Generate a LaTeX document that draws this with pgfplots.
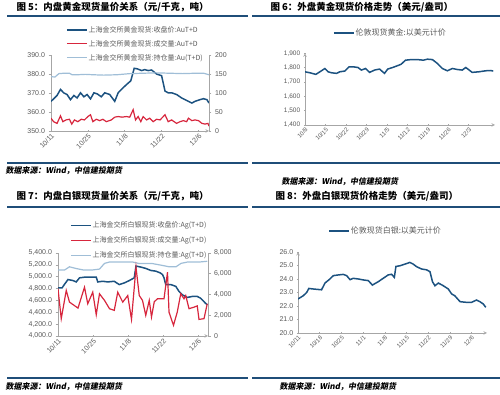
\documentclass[border=0pt]{standalone}
\usepackage{pgfplots}
\pgfplotsset{compat=1.18}
\usepackage{fontspec}
\setmainfont{Liberation Sans}
\newfontfamily\cjk{Noto Sans CJK SC}
\newfontfamily\cjksrc{Noto Sans CJK SC}[FakeSlant=0.18]
\definecolor{cDark}{RGB}{28,82,128}
\definecolor{cRed}{RGB}{215,38,61}
\definecolor{cLight}{RGB}{160,190,215}
\definecolor{cRule}{RGB}{31,78,121}
\definecolor{tickgray}{RGB}{89,89,89}
\definecolor{axisgray}{RGB}{166,166,166}
\pgfplotsset{
  base/.style={scale only axis, axis line style={draw=axisgray, line width=0.6pt, -},
    tick style={draw=axisgray, line width=0.5pt}, major tick length=2.5pt, tick align=outside,
    ticklabel style={font=\fontsize{7}{8}\selectfont, text=tickgray},
    /pgf/number format/assume math mode=true,
    xticklabel style={rotate=45, anchor=north east, inner sep=0.5pt},
    legend image code/.code={\draw[##1] (0pt,0pt) -- (20pt,0pt);},
    legend cell align=left},
  leg/.style={legend style={draw=none, fill=none, font=\cjk\fontsize{7}{8}\selectfont, text=tickgray, row sep=4.5pt, inner sep=0pt, nodes={inner sep=1pt}}},
}
\begin{document}
\begin{tikzpicture}
\useasboundingbox (0,0) rectangle (500pt,395pt);
% titles and rules
\node[anchor=west, font=\cjk\bfseries\fontsize{9.5}{10}\selectfont] at (13pt,388pt) {图 5：内盘黄金现货量价关系（元/千克，吨）};
\node[anchor=west, font=\cjk\bfseries\fontsize{9.5}{10}\selectfont] at (267pt,388pt) {图 6：外盘黄金现货价格走势（美元/盎司）};
\node[anchor=west, font=\cjk\bfseries\fontsize{9.5}{10}\selectfont] at (13pt,199pt) {图 7：内盘白银现货量价关系（元/千克，吨）};
\node[anchor=west, font=\cjk\bfseries\fontsize{9.5}{10}\selectfont] at (272pt,199pt) {图 8：外盘白银现货价格走势（美元/盎司）};
\draw[cRule, line width=1.2pt] (7pt,379pt) -- (248pt,379pt);
\draw[cRule, line width=1.2pt] (252pt,379pt) -- (500pt,379pt);
\draw[cRule, line width=1.2pt] (7pt,232pt) -- (248pt,232pt);
\draw[cRule, line width=1.2pt] (252pt,232pt) -- (500pt,232pt);
\draw[cRule, line width=1.2pt] (7pt,188pt) -- (248pt,188pt);
\draw[cRule, line width=1.2pt] (252pt,188pt) -- (500pt,188pt);
\draw[cRule, line width=1.2pt] (7pt,17pt) -- (248pt,17pt);
\draw[cRule, line width=1.2pt] (252pt,17pt) -- (500pt,17pt);
\node[anchor=west, font=\cjksrc\bfseries\fontsize{8}{9}\selectfont] at (2pt,224pt) {数据来源：Wind，中信建投期货};
\node[anchor=west, font=\cjksrc\bfseries\fontsize{8}{9}\selectfont] at (278pt,213pt) {数据来源：Wind，中信建投期货};
\node[anchor=west, font=\cjksrc\bfseries\fontsize{8}{9}\selectfont] at (2pt,8pt) {数据来源：Wind，中信建投期货};
\node[anchor=west, font=\cjksrc\bfseries\fontsize{8}{9}\selectfont] at (276pt,8pt) {数据来源：Wind，中信建投期货};

% ---------- Chart 1 ----------
\begin{axis}[base, leg, at={(51pt,264pt)}, anchor=south west, width=158pt, height=76pt,
  axis x line=bottom, axis y line*=left, xmin=0, xmax=60, ymin=350, ymax=390,
  xtick={0,14,28,42,56}, xticklabels={10/11,10/25,11/8,11/22,12/6},
  ytick={350,360,...,390}, yticklabel style={/pgf/number format/.cd, fixed, fixed zerofill, precision=1},
  legend style={at={(0.095,1.395)}, anchor=north west}]
\addplot[cDark, line width=1.5pt] coordinates {(0,365.6)(1.0,366.9)(2.3,368.7)(3.6,371.9)(4.8,370.1)(6.1,369.2)(7.4,366.5)(8.7,368.7)(9.9,367.4)(11.2,370.1)(12.5,368.0)(13.7,369.2)(15.0,366.9)(16.3,370.1)(17.6,369.5)(19.1,368.0)(20.4,370.1)(22.3,369.2)(24.2,365.6)(25.5,370.1)(27.4,372.8)(29.3,375.2)(30.3,376.4)(31.6,383.0)(32.8,382.7)(34.4,381.8)(35.6,382.3)(36.9,381.8)(38.2,382.1)(40.1,380.0)(42.0,379.1)(43.3,371.0)(44.5,370.1)(45.8,370.1)(47.7,369.2)(49.6,367.4)(52.2,365.6)(53.5,364.7)(54.7,365.6)(56.6,366.5)(57.9,367.0)(59.2,366.5)(60,364.7)};
\addlegendentry{上海金交所黄金现货:收盘价:AuT+D}
\addlegendimage{cRed, line width=1.2pt}
\addlegendentry{上海金交所黄金现货:成交量:AuT+D}
\addlegendimage{cLight, line width=1.2pt}
\addlegendentry{上海金交所黄金现货:持仓量:Au(T+D)}
\end{axis}
\begin{axis}[base, at={(51pt,264pt)}, anchor=south west, width=158pt, height=76pt,
  axis x line=none, axis y line*=right, xmin=0, xmax=60, ymin=0, ymax=200, ytick={0,50,...,200}]
\addplot[cLight, line width=1.2pt] coordinates {(0,143)(1.5,142)(3,151)(5,152)(7,152)(8,148)(10,148)(13,149)(16,148)(20,147)(25,148)(30,151)(35,152)(40,153)(45,152)(50,151)(55,152)(58,152)(60,148)};
\addplot[cRed, line width=1.2pt] coordinates {(0,33.7)(1.0,24.5)(2.3,20.0)(3.6,39.9)(4.5,24.5)(5.7,29.1)(7.0,30.9)(7.9,18.2)(8.9,29.1)(10.2,24.5)(11.5,30.9)(12.7,29.1)(14.0,38.0)(15.0,42.7)(15.9,24.5)(17.2,30.9)(18.5,27.3)(19.7,30.9)(21.0,24.5)(22.9,29.1)(24.2,36.4)(25.5,38.0)(27.0,36.4)(28.6,38.0)(29.9,36.4)(31.2,56.2)(32.1,29.1)(33.1,38.0)(34.1,24.5)(35.0,38.0)(36.3,29.1)(37.5,33.7)(38.8,24.5)(40.1,30.9)(41.4,29.1)(43.3,42.7)(44.5,24.5)(45.8,29.1)(47.7,20.0)(49.0,24.5)(50.3,27.3)(51.5,24.5)(52.2,33.7)(53.5,27.3)(54.7,29.1)(56.0,27.3)(57.3,20.0)(58.5,18.2)(59.6,20.0)(60,12.8)};
\end{axis}

% ---------- Chart 2 ----------
\begin{axis}[base, leg, at={(305pt,270pt)}, anchor=south west, width=190pt, height=71.7pt,
  axis x line=bottom, axis y line=left, xmin=0, xmax=65, ymin=1400, ymax=1900,
  xtick={0,7,...,56}, xticklabels={10/8,10/15,10/22,10/29,11/5,11/12,11/19,11/26,12/3},
  ticklabel style={font=\fontsize{6.5}{7}\selectfont},
  xticklabel style={font=\fontsize{6}{7}\selectfont},
  ytick={1400,1500,...,1900}, yticklabel style={/pgf/number format/.cd, fixed, 1000 sep={,}},
  legend style={at={(0.147,1.283)}, anchor=west, font=\cjk\fontsize{8}{9}\selectfont}]
\addplot[cDark, line width=1.5pt] coordinates {(0,1771)(1.7,1764)(3.7,1753)(5.1,1771)(6.8,1794)(7.9,1771)(9.1,1764)(10.8,1760)(11.9,1771)(13.6,1776)(15.1,1806)(16.4,1806)(18.1,1801)(19.3,1783)(20.7,1794)(22.1,1767)(23.8,1783)(25.5,1790)(27.2,1760)(28.3,1790)(30.0,1801)(32.1,1817)(32.9,1824)(34.4,1852)(36.3,1856)(38.5,1856)(40.5,1852)(41.9,1859)(43.6,1856)(45.3,1829)(47.0,1794)(48.7,1778)(50.4,1794)(52.1,1787)(53.8,1783)(55.0,1801)(57.2,1767)(59.5,1771)(61.8,1778)(63.5,1780)(64.4,1776)};
\addlegendentry{伦敦现货黄金:以美元计价}
\end{axis}

% ---------- Chart 3 ----------
\begin{axis}[base, leg, at={(58pt,59pt)}, anchor=south west, width=150pt, height=83pt,
  axis x line=bottom, axis y line*=left, xmin=0, xmax=60, ymin=4000, ymax=5400,
  xtick={0,14,28,42,56}, xticklabels={10/11,10/25,11/8,11/22,12/6},
  ytick={4000,4200,...,5400}, yticklabel style={/pgf/number format/.cd, fixed, fixed zerofill, precision=1, 1000 sep={,}},
  legend style={at={(0.08,1.39)}, anchor=north west, row sep=5.5pt}]
\addplot[cDark, line width=1.5pt] coordinates {(0,4810)(1.6,4810)(2.7,4878)(4.0,4952)(6.0,4935)(7.3,4912)(8.6,4981)(10.6,4992)(13.3,4992)(15.3,4992)(15.9,4912)(17.9,4923)(19.9,4912)(22.5,4923)(24.5,4867)(26.5,4895)(28.5,4935)(30.5,4981)(31.2,5180)(33.2,5162)(35.1,5140)(37.1,5106)(39.1,5094)(40.8,5066)(41.8,5037)(42.4,4981)(43.1,4867)(45.1,4867)(47.1,4838)(48.4,4752)(49.7,4696)(51.7,4650)(53.7,4667)(55.7,4667)(57.0,4639)(59.0,4553)(59.7,4525)};
\addlegendentry{上海金交所白银现货:收盘价:Ag(T+D)}
\addlegendimage{cRed, line width=1.2pt}
\addlegendentry{上海金交所白银现货:成交量:Ag(T+D)}
\addlegendimage{cLight, line width=1.2pt}
\addlegendentry{上海金交所白银现货:持仓量:Ag(T+D)}
\end{axis}
\begin{axis}[base, at={(58pt,59pt)}, anchor=south west, width=150pt, height=83pt,
  axis x line=none, axis y line*=right, xmin=0, xmax=60, ymin=0, ymax=8000, ytick={0,2000,...,8000},
  yticklabel style={/pgf/number format/.cd, fixed, 1000 sep={,}}]
\addplot[cLight, line width=1.2pt] coordinates {(0,6370)(2.7,6370)(4.6,6670)(7.3,6500)(10,6370)(14,6370)(16.6,6450)(18.6,7000)(20.6,7130)(24.6,7130)(29.9,7130)(32.5,6980)(37.8,6980)(41.8,6800)(44.5,6670)(47.2,6670)(49.2,7000)(51.8,7130)(56.5,7130)(59.7,7200)};
\addplot[cRed, line width=1.2pt] coordinates {(0,4550)(1.3,1670)(3.3,4390)(4.6,3264)(8.0,2690)(10.6,4700)(11.9,3110)(13.9,4224)(15.3,2054)(16.6,4070)(18.6,3430)(20.6,2630)(22.5,2470)(23.9,4224)(25.9,3264)(27.9,3900)(29.4,1600)(31.2,6620)(32.5,3900)(33.8,3430)(35.1,1990)(36.5,3430)(37.4,1830)(38.5,3300)(39.8,3590)(42.4,3590)(43.8,6144)(44.4,2300)(46.2,1030)(47.7,2300)(49.1,4070)(50.4,3590)(51.1,3900)(52.4,2630)(54.4,2780)(55.7,2900)(56.4,1600)(58.4,1670)(59.7,3110)};
\end{axis}

% ---------- Chart 4 ----------
\begin{axis}[base, leg, at={(298pt,62pt)}, anchor=south west, width=189pt, height=81pt,
  axis x line=bottom, axis y line=left, xmin=0, xmax=61, ymin=20, ymax=26,
  xtick={0,7,...,56}, xticklabels={10/11,10/18,10/25,11/1,11/8,11/15,11/22,11/29,12/6},
  xticklabel style={font=\fontsize{6}{7}\selectfont},
  ytick={20,21,...,26}, yticklabel style={/pgf/number format/.cd, fixed, fixed zerofill, precision=1},
  legend style={at={(0.159,1.26)}, anchor=west, font=\cjk\fontsize{8}{9}\selectfont}]
\addplot[cDark, line width=1.5pt] coordinates {(0,22.52)(1.7,22.76)(2.8,23.0)(3.5,23.3)(4.9,23.26)(7.6,23.2)(8.7,23.7)(10.3,24.0)(11.4,24.25)(13.0,24.3)(14.6,24.34)(15.7,24.25)(16.8,23.95)(17.8,24.05)(19.5,24.0)(21.1,23.93)(22.7,23.88)(24.0,23.55)(25.9,23.8)(27.5,24.05)(29.1,24.3)(30.2,24.35)(31.1,24.12)(31.6,24.93)(32.9,24.98)(34.5,25.1)(36.1,25.23)(37.2,25.1)(38.3,24.91)(39.9,24.74)(41.5,24.68)(42.6,24.54)(43.4,23.8)(44.2,23.5)(45.3,23.7)(46.9,23.5)(48.5,23.26)(49.6,22.89)(50.6,22.76)(52.3,22.32)(54.4,22.27)(56.0,22.27)(57.6,22.44)(58.7,22.32)(59.8,22.15)(60.6,21.9)};
\addlegendentry{伦敦现货白银:以美元计价}
\end{axis}
\end{tikzpicture}
\end{document}
